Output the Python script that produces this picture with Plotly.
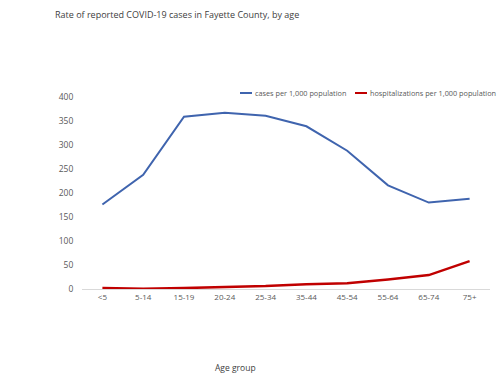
import plotly.graph_objects as go

age_groups = ["<5", "5-14", "15-19", "20-24", "25-34", "35-44", "45-54", "55-64", "65-74", "75+"]
cases_per_1000 = [176, 238, 359, 367, 361, 339, 288, 216, 180, 188]
hosp_per_1000 = [2, 0.5, 2, 4, 6, 10, 12, 20, 29, 58]
y_ticks = [0, 50, 100, 150, 200, 250, 300, 350, 400]
series_names = ["cases per 1,000 population", "hospitalizations per 1,000 population"]
series_colors = ["#3F64AE", "#C00000"]

FONT = "Open Sans, Liberation Sans, sans-serif"
GRAY = "#595959"

W, H = 500, 380
L, R, T, B = 82, 10, 97, 91
PW, PH = W - L - R, H - T - B

def px_x(x):
    return (x - L) / PW

def px_y(y):
    return 1 - (y - T) / PH

fig = go.Figure()
fig.add_trace(go.Scatter(x=age_groups, y=cases_per_1000, mode="lines",
                         name=series_names[0],
                         line=dict(color=series_colors[0], width=2)))
fig.add_trace(go.Scatter(x=age_groups, y=hosp_per_1000, mode="lines",
                         name=series_names[1],
                         line=dict(color=series_colors[1], width=2.5)))

# manual legend (short line keys like the reference)
legend_items = [(240, 253), (355, 368)]
shapes = []
annotations = []
for (x0, tx), name, col in zip(legend_items, series_names, series_colors):
    shapes.append(dict(type="line", xref="paper", yref="paper",
                       x0=px_x(x0), x1=px_x(x0 + 12), y0=px_y(93), y1=px_y(93),
                       line=dict(color=col, width=2)))
    annotations.append(dict(text=name, xref="paper", yref="paper",
                            x=px_x(tx), y=px_y(93), xanchor="left", yanchor="middle",
                            showarrow=False, font=dict(size=7.3, color=GRAY)))

annotations.append(dict(text="Age group", xref="paper", yref="paper",
                        x=px_x(235), y=px_y(367), xanchor="center", yanchor="middle",
                        showarrow=False, font=dict(size=8.5, color="#404040")))

fig.update_layout(
    width=W, height=H,
    margin=dict(l=L, r=R, t=T, b=B, autoexpand=False),
    paper_bgcolor="white", plot_bgcolor="white",
    font=dict(family=FONT, size=8, color=GRAY),
    title=dict(text="Rate of reported COVID-19 cases in Fayette County, by age",
               x=55/W, xanchor="left", y=1-15/H, yanchor="middle",
               font=dict(size=9, color="#404040")),
    showlegend=False,
    xaxis=dict(type="category", range=[-0.5, len(age_groups) - 0.5],
               showgrid=False, showline=True, linecolor="#D9D9D9",
               linewidth=1, ticks="", tickfont=dict(size=8, color=GRAY),
               automargin=False),
    yaxis=dict(range=[0, 400], tickvals=y_ticks, showgrid=False, zeroline=False,
               showline=False, ticks="outside", ticklen=6, tickcolor="white",
               tickfont=dict(size=8.5, color=GRAY), automargin=False),
    shapes=shapes,
    annotations=annotations,
)

fig.write_html("out.html",
               config={"displayModeBar": False},
               post_script="document.body.style.margin='0';document.body.style.overflow='hidden';")
